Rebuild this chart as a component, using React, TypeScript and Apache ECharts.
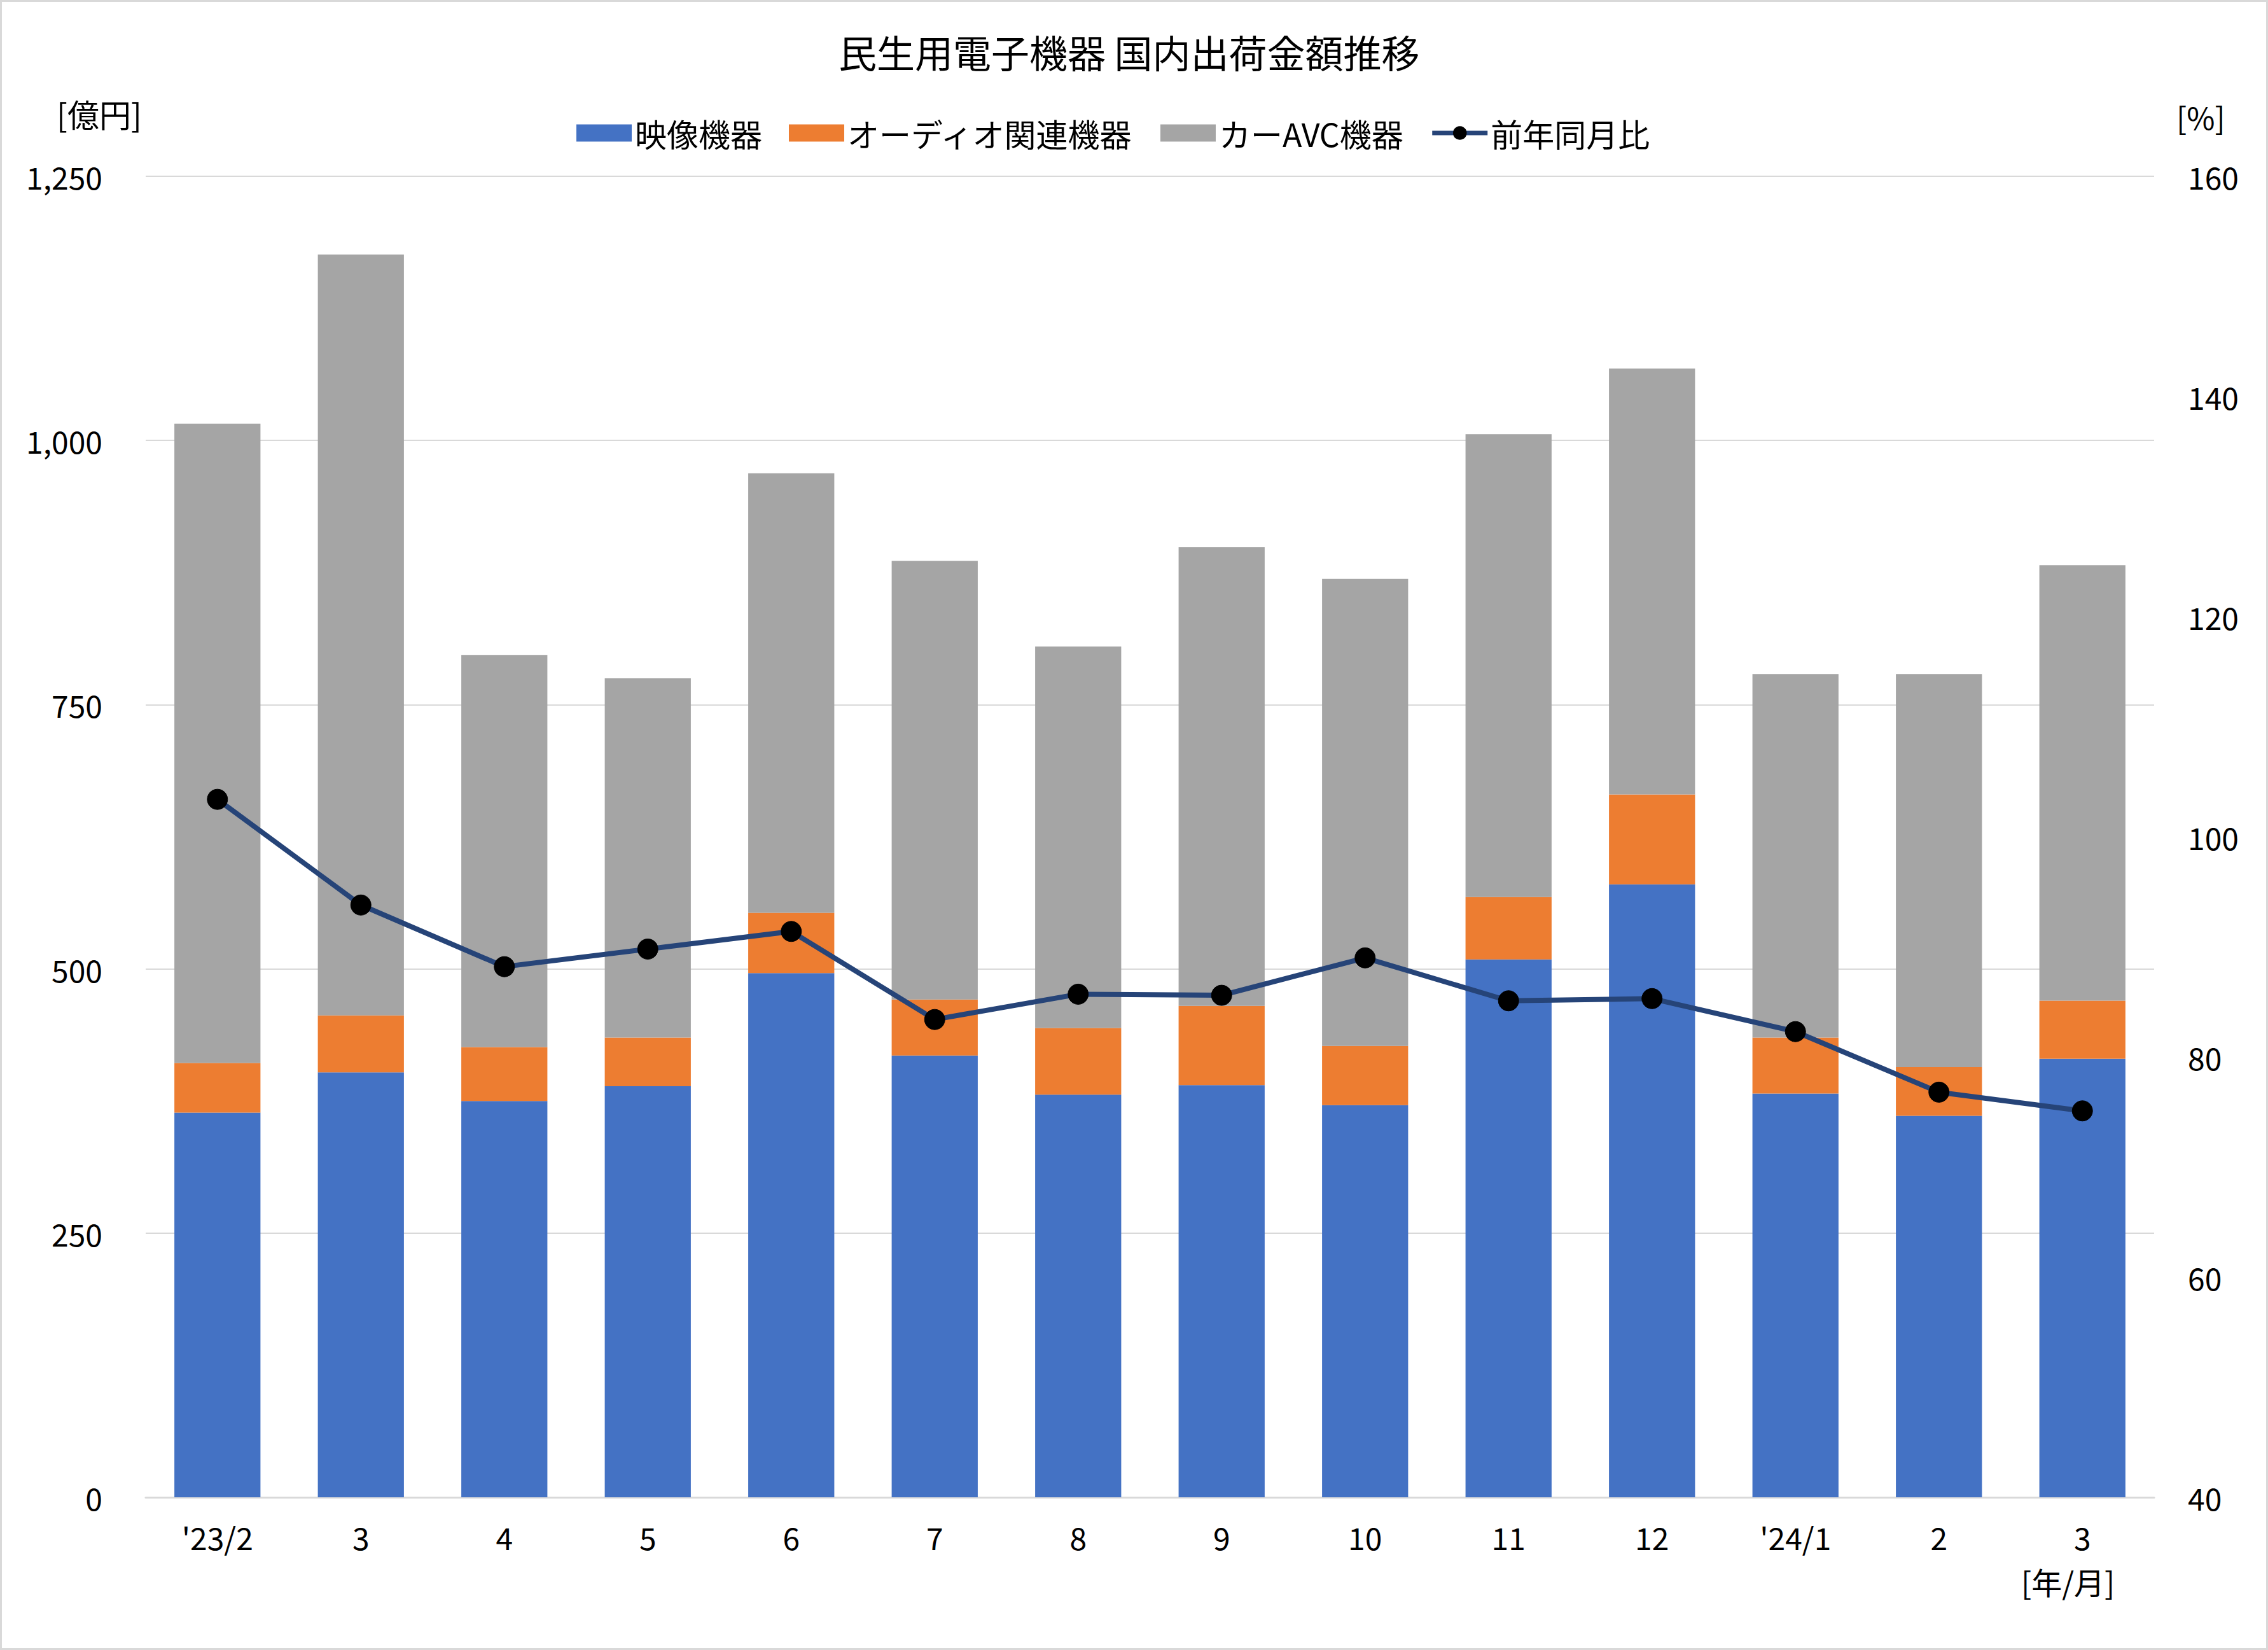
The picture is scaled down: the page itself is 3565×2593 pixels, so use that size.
import React, { useEffect, useRef } from "react";
import * as echarts from "echarts";

const categories = ["'23/2", "3", "4", "5", "6", "7", "8", "9", "10", "11", "12", "'24/1", "2", "3"];
const videoValues = [364, 402, 375, 389, 496, 418, 381, 390, 371, 509, 580, 382, 361, 415];
const audioValues = [47, 54, 51, 46, 57, 53, 63, 75, 56, 59, 85, 53, 46, 55];
const carAvcValues = [605, 720, 371, 340, 416, 415, 361, 434, 442, 438, 403, 344, 372, 412];
const yoyValues = [103.4, 93.8, 88.2, 89.8, 91.4, 83.4, 85.7, 85.6, 89.0, 85.1, 85.3, 82.3, 76.8, 75.1];
const leftTicks = { min: 0, max: 1250, interval: 250 };
const rightTicks = { min: 40, max: 160, interval: 20 };

const FONT = "'Noto Sans CJK JP', 'Noto Sans', sans-serif";

export default function App() {
  const ref = useRef<HTMLDivElement>(null);
  useEffect(() => {
    const chart = echarts.init(ref.current!, null, { renderer: "svg" });
    chart.setOption({
      animation: false,
      backgroundColor: "#ffffff",
      textStyle: { fontFamily: FONT, color: "#000" },
      title: {
        text: "民生用電子機器 国内出荷金額推移",
        left: 1310,
        top: 42,
        textStyle: { fontFamily: FONT, fontSize: 60, fontWeight: "normal", color: "#000" },
      },
      legend: {
        top: 176,
        left: 898,
        itemWidth: 87,
        itemHeight: 27,
        itemGap: 42,
        textStyle: { fontFamily: FONT, fontSize: 50, color: "#000" },
        data: [
          { name: "映像機器", icon: "rect" },
          { name: "オーディオ関連機器", icon: "rect" },
          { name: "カーAVC機器", icon: "rect" },
          { name: "前年同月比", lineStyle: { width: 7, color: "#264478" } },
        ],
      },
      grid: { left: 226, right: 176, top: 274, bottom: 237, containLabel: false },
      xAxis: {
        type: "category",
        data: categories,
        axisTick: { show: false },
        axisLine: { lineStyle: { color: "#d9d9d9", width: 3 } },
        axisLabel: { margin: 38, fontSize: 48, lineHeight: 48, color: "#000", fontFamily: FONT },
      },
      yAxis: [
        {
          type: "value",
          min: leftTicks.min,
          max: leftTicks.max,
          interval: leftTicks.interval,
          axisLine: { show: false },
          axisTick: { show: false },
          splitLine: { lineStyle: { color: "#d9d9d9", width: 2 } },
          axisLabel: {
            margin: 68,
            fontSize: 48,
            color: "#000",
            fontFamily: FONT,
            padding: [0, 0, 8, 0],
            formatter: (v: number) => v.toLocaleString("en-US"),
          },
        },
        {
          type: "value",
          min: rightTicks.min,
          max: rightTicks.max,
          interval: rightTicks.interval,
          axisLine: { show: false },
          axisTick: { show: false },
          splitLine: { show: false },
          axisLabel: { margin: 53, fontSize: 48, color: "#000", fontFamily: FONT, padding: [0, 0, 8, 0] },
        },
      ],
      series: [
        {
          name: "映像機器",
          type: "bar",
          stack: "total",
          barWidth: "60%",
          itemStyle: { color: "#4472C4" },
          data: videoValues,
        },
        {
          name: "オーディオ関連機器",
          type: "bar",
          stack: "total",
          itemStyle: { color: "#ED7D31" },
          data: audioValues,
        },
        {
          name: "カーAVC機器",
          type: "bar",
          stack: "total",
          itemStyle: { color: "#A5A5A5" },
          data: carAvcValues,
        },
        {
          name: "前年同月比",
          type: "line",
          yAxisIndex: 1,
          symbol: "circle",
          symbolSize: 32,
          lineStyle: { color: "#264478", width: 8 },
          itemStyle: { color: "#000000", borderColor: "#000000" },
          data: yoyValues,
          z: 10,
        },
      ],
      graphic: [
        {
          type: "text",
          left: 86,
          top: 150,
          style: { text: "[億円]", fontSize: 50, fontFamily: FONT, fill: "#000" },
        },
        {
          type: "text",
          left: 3418,
          top: 156,
          style: { text: "[%]", fontSize: 48, fontFamily: FONT, fill: "#000" },
        },
        {
          type: "text",
          left: 3174,
          top: 2458,
          style: { text: "[年/月]", fontSize: 48, fontFamily: FONT, fill: "#000" },
        },
      ],
    });
    return () => chart.dispose();
  }, []);
  return (
    <div
      ref={ref}
      style={{
        position: "fixed",
        left: 0,
        top: 0,
        width: 3565,
        height: 2593,
        boxSizing: "border-box",
        border: "3px solid #d9d9d9",
      }}
    />
  );
}
